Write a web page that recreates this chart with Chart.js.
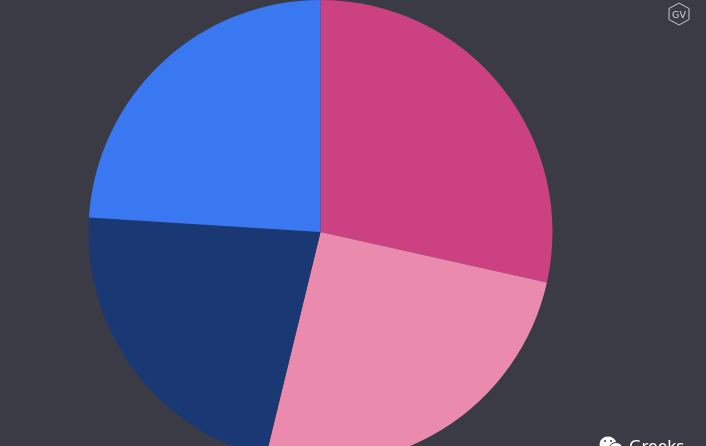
<!DOCTYPE html>
<html>
<head>
<meta charset="utf-8">
<script src="https://cdn.jsdelivr.net/npm/chart.js"></script>
<style>
	html, body { margin: 0; padding: 0; width: 706px; height: 446px; overflow: hidden; background: #3b3b45; }
	#wrap { position: absolute; left: 0; top: 0; width: 706px; height: 464px; }
	#gv { position: absolute; left: 667px; top: 2px; }
	#greeks { position: absolute; left: 629px; top: 435px; color: #fff; font: 17px "Noto Sans", sans-serif; line-height: 22px; }
	#icon { position: absolute; left: 599px; top: 436px; }
</style>
</head>
<body>
<div id="wrap"><canvas id="pie"></canvas></div>
<svg id="gv" width="24" height="24" viewBox="0 0 24 24">
	<polygon points="12,1 22,6.5 22,17.5 12,23 2,17.5 2,6.5" fill="none" stroke="#c9c9cf" stroke-width="1"/>
	<text x="12" y="15.5" text-anchor="middle" fill="#d5d5da" font-family="DejaVu Sans" font-size="9.5">GV</text>
</svg>
<svg id="icon" width="26" height="14" viewBox="0 0 26 14">
	<ellipse cx="9" cy="8" rx="8.5" ry="7.5" fill="#fff"/>
	<ellipse cx="17" cy="12" rx="6.5" ry="5.5" fill="#fff" stroke="#3b3b45" stroke-width="1"/>
	<circle cx="6" cy="5" r="1" fill="#3b3b45"/>
	<circle cx="12" cy="5" r="1" fill="#3b3b45"/>
</svg>
<div id="greeks">Greeks</div>

<script>
	const categories = ["A", "B", "C", "D"];
	const shares = [28.5, 25.3, 22.2, 24.0];
	const sliceColors = ["#cb4182", "#ea8bae", "#1a3873", "#3a78f2"];

	const ctx = document.getElementById('pie').getContext('2d');
	const myPie = new Chart(ctx, {
		type: 'pie',
		data: {
			labels: categories,
			datasets: [{
				data: shares,
				backgroundColor: sliceColors,
				borderWidth: 0
			}]
		},
		options: {
			responsive: true,
			maintainAspectRatio: false,
			animation: false,
			layout: { padding: { left: 0, right: 65, top: 0, bottom: 0 } },
			plugins: {
				legend: { display: false },
				tooltip: { enabled: false }
			}
		}
	});
</script>
</body>
</html>
